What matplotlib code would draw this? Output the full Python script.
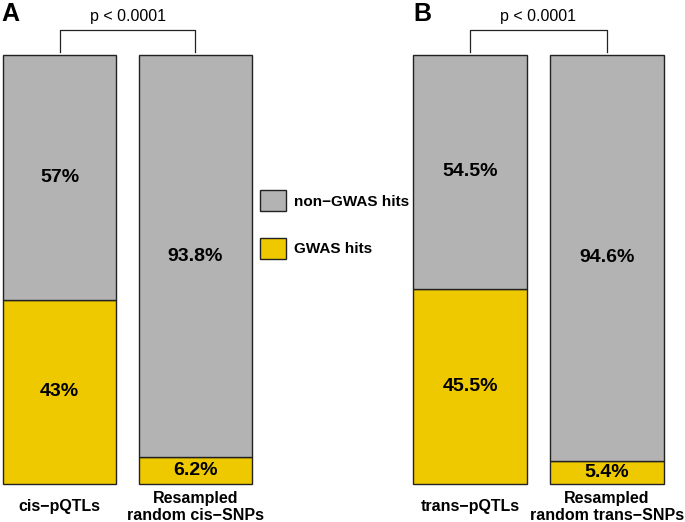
import matplotlib
matplotlib.use('Agg')
import matplotlib.pyplot as plt
from matplotlib.patches import Patch

plt.rcParams['font.family'] = ['Liberation Sans', 'DejaVu Sans']

# data
panels = ['A', 'B']
categories_a = ['cis\u2212pQTLs', 'Resampled\nrandom cis\u2212SNPs']
categories_b = ['trans\u2212pQTLs', 'Resampled\nrandom trans\u2212SNPs']
gwas_a = [43.0, 6.2]
gwas_b = [45.5, 5.4]
gwas_labels_a = ['43%', '6.2%']
gwas_labels_b = ['45.5%', '5.4%']
non_labels_a = ['57%', '93.8%']
non_labels_b = ['54.5%', '94.6%']
pval_text = 'p < 0.0001'
legend_labels = ['non\u2212GWAS hits', 'GWAS hits']

GREY = '#B3B3B3'
GOLD = '#EEC900'

W, H = 685, 522
fig = plt.figure(figsize=(W / 100, H / 100), dpi=100)


def draw_panel(left_px, right_px, cats, gwas, glabels, nlabels, letter):
    bottom_px, top_px = 484, 55
    ax = fig.add_axes([left_px / W, 1 - bottom_px / H,
                       (right_px - left_px) / W, (bottom_px - top_px) / H])
    xs = [0.7, 1.9]
    non = [100 - g for g in gwas]
    b1 = ax.bar(xs, gwas, width=1, color=GOLD, edgecolor='#222222', linewidth=1)
    b2 = ax.bar(xs, non, bottom=gwas, width=1, color=GREY, edgecolor='#222222', linewidth=1)
    for p in list(b1) + list(b2):
        p.set_clip_on(False)
    ax.set_xlim(0.2, 2.4)
    ax.set_ylim(0, 100)
    ax.axis('off')
    for x, g, gl, nl in zip(xs, gwas, glabels, nlabels):
        ax.text(x, g / 2, gl, ha='center', va='center', fontsize=14, fontweight='bold')
        ax.text(x, g + (100 - g) / 2, nl, ha='center', va='center', fontsize=14, fontweight='bold')
    for x, c in zip(xs, cats):
        ax.text(x, -5.3, c, ha='center', va='center', fontsize=11.5,
                fontweight='bold', linespacing=1.15, clip_on=False)
    # significance bracket
    ax.plot([xs[0], xs[0], xs[1], xs[1]], [100.7, 105.8, 105.8, 100.7],
            color='#222222', linewidth=0.9, clip_on=False)
    ax.text((xs[0] + xs[1]) / 2, 109.0, pval_text, ha='center', va='center',
            fontsize=11.5, clip_on=False)
    return ax


draw_panel(3, 252, categories_a, gwas_a, gwas_labels_a, non_labels_a, 'A')
draw_panel(413, 664, categories_b, gwas_b, gwas_labels_b, non_labels_b, 'B')

fig.text(1 / W, 1 - 14 / H, 'A', fontsize=18, fontweight='bold', va='center', ha='left')
fig.text(413 / W, 1 - 14 / H, 'B', fontsize=18, fontweight='bold', va='center', ha='left')

handles = [Patch(facecolor=GREY, edgecolor='#222222', linewidth=1),
           Patch(facecolor=GOLD, edgecolor='#222222', linewidth=1)]
fig.legend(handles, legend_labels, loc='upper left',
           bbox_to_anchor=(260 / W, 1 - 190 / H), frameon=False,
           prop={'weight': 'bold', 'size': 11},
           handlelength=1.7, handleheight=1.75, handletextpad=0.5,
           labelspacing=1.75, borderpad=0, borderaxespad=0)

fig.savefig('out.png', dpi=100)
